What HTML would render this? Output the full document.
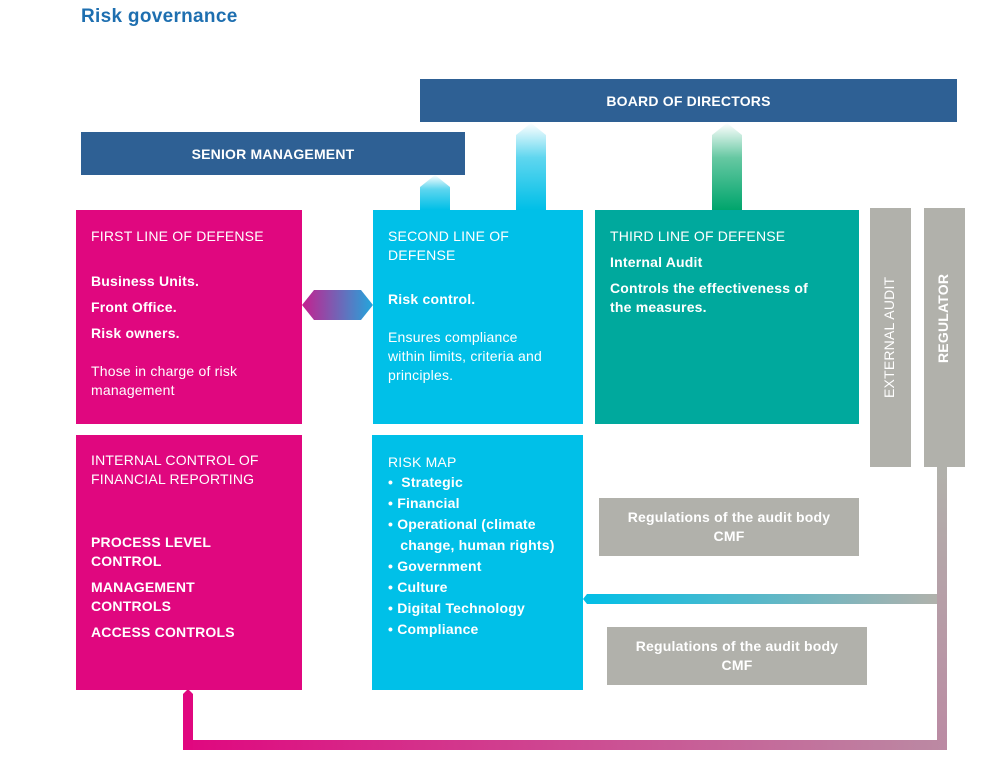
<!DOCTYPE html>
<html><head><meta charset="utf-8"><style>
body{margin:0;width:999px;height:783px;background:#fff;position:relative;overflow:hidden;font-family:"Liberation Sans",sans-serif;}
.a{position:absolute;box-sizing:border-box;color:#fff;}
.t{font-size:14px;line-height:19px;letter-spacing:0.2px;}
.b{font-weight:bold;}
.ctr{display:flex;align-items:center;justify-content:center;text-align:center;font-weight:bold;font-size:14px;letter-spacing:0.2px;}
.v{writing-mode:vertical-rl;transform:rotate(180deg);}
</style></head><body>
<div class="a b" style="left:81px;top:6px;color:#1e6fb0;font-size:19px;letter-spacing:0.3px;">Risk governance</div>

<svg class="a" style="left:0;top:0" width="999" height="783">
<defs>
<linearGradient id="gc" x1="0" y1="1" x2="0" y2="0"><stop offset="0" stop-color="#00bfe7"/><stop offset="0.6" stop-color="#5fd6ef"/><stop offset="1" stop-color="#ffffff"/></linearGradient>
<linearGradient id="gg" x1="0" y1="1" x2="0" y2="0"><stop offset="0" stop-color="#00a56c"/><stop offset="0.6" stop-color="#66c8a2"/><stop offset="1" stop-color="#ffffff"/></linearGradient>
<linearGradient id="gh" x1="0" y1="0" x2="1" y2="0"><stop offset="0" stop-color="#c5208f"/><stop offset="1" stop-color="#22a6dc"/></linearGradient>
<linearGradient id="gl" x1="0" y1="0" x2="1" y2="0"><stop offset="0" stop-color="#00bfe7"/><stop offset="1" stop-color="#b1b1ab"/></linearGradient>
<linearGradient id="gb" x1="0" y1="0" x2="1" y2="0"><stop offset="0" stop-color="#e0077f"/><stop offset="1" stop-color="#bb8aa3"/></linearGradient>
<linearGradient id="gv" x1="0" y1="0" x2="0" y2="1"><stop offset="0" stop-color="#b1b1ab"/><stop offset="1" stop-color="#bb8aa3"/></linearGradient>
</defs>
<polygon points="420,187 435,175 450,187 450,210 420,210" fill="url(#gc)"/>
<polygon points="516,135 531,123 546,135 546,210 516,210" fill="url(#gc)"/>
<polygon points="712,135 727,123 742,135 742,210 712,210" fill="url(#gg)"/>
<polygon points="302,305 314,290 361,290 373,305 361,320 314,320" fill="url(#gh)"/>
<polygon points="583,599 587,594 938,594 938,604 587,604" fill="url(#gl)"/>
<rect x="937" y="467" width="10" height="283" fill="url(#gv)"/>
<rect x="183" y="740" width="764" height="10" fill="url(#gb)"/>
<polygon points="183,694 188,689 193,694 193,750 183,750" fill="#e0077f"/>
</svg>

<div class="a ctr" style="left:420px;top:79px;width:537px;height:43px;background:#2e6094;">BOARD OF DIRECTORS</div>
<div class="a ctr" style="left:81px;top:132px;width:384px;height:43px;background:#2e6094;">SENIOR MANAGEMENT</div>

<div class="a t" style="left:76px;top:210px;width:226px;height:214px;background:#e0077f;padding:17px 15px;">
<div>FIRST LINE OF DEFENSE</div>
<div class="b" style="margin-top:26px">Business Units.</div>
<div class="b" style="margin-top:7px">Front Office.</div>
<div class="b" style="margin-top:7px">Risk owners.</div>
<div style="margin-top:19px">Those in charge of risk<br>management</div>
</div>

<div class="a t" style="left:373px;top:210px;width:210px;height:214px;background:#00c0e8;padding:17px 15px;">
<div>SECOND LINE OF<br>DEFENSE</div>
<div class="b" style="margin-top:25px">Risk control.</div>
<div style="margin-top:19px">Ensures compliance<br>within limits, criteria and<br>principles.</div>
</div>

<div class="a t" style="left:595px;top:210px;width:264px;height:214px;background:#00a99d;padding:17px 15px;">
<div>THIRD LINE OF DEFENSE</div>
<div class="b" style="margin-top:7px">Internal Audit</div>
<div class="b" style="margin-top:7px">Controls the effectiveness of<br>the measures.</div>
</div>

<div class="a" style="left:870px;top:208px;width:41px;height:259px;background:#b1b1ab;"></div>
<div class="a" style="left:924px;top:208px;width:41px;height:259px;background:#b1b1ab;"></div>
<div class="a t v" style="left:880px;top:270px;width:21px;height:135px;text-align:center;font-size:14px;">EXTERNAL AUDIT</div>
<div class="a t v b" style="left:934px;top:285px;width:21px;height:78px;text-align:center;font-size:14px;">REGULATOR</div>

<div class="a t" style="left:76px;top:435px;width:226px;height:255px;background:#e0077f;padding:16px 15px;">
<div>INTERNAL CONTROL OF<br>FINANCIAL REPORTING</div>
<div class="b" style="margin-top:44px">PROCESS LEVEL<br>CONTROL</div>
<div class="b" style="margin-top:7px">MANAGEMENT<br>CONTROLS</div>
<div class="b" style="margin-top:7px">ACCESS CONTROLS</div>
</div>

<div class="a t" style="left:372px;top:435px;width:211px;height:255px;background:#00c0e8;padding:18px 16px 0 16px;line-height:21px;">
<div style="line-height:19px">RISK MAP</div>
<div class="b">• &nbsp;Strategic</div>
<div class="b">• Financial</div>
<div class="b">• Operational (climate<br>&nbsp;&nbsp; change, human rights)</div>
<div class="b">• Government</div>
<div class="b">• Culture</div>
<div class="b">• Digital Technology</div>
<div class="b">• Compliance</div>
</div>

<div class="a ctr" style="left:599px;top:498px;width:260px;height:58px;background:#b1b1ab;line-height:19px;">Regulations of the audit body<br>CMF</div>
<div class="a ctr" style="left:607px;top:627px;width:260px;height:58px;background:#b1b1ab;line-height:19px;">Regulations of the audit body<br>CMF</div>
</body></html>
